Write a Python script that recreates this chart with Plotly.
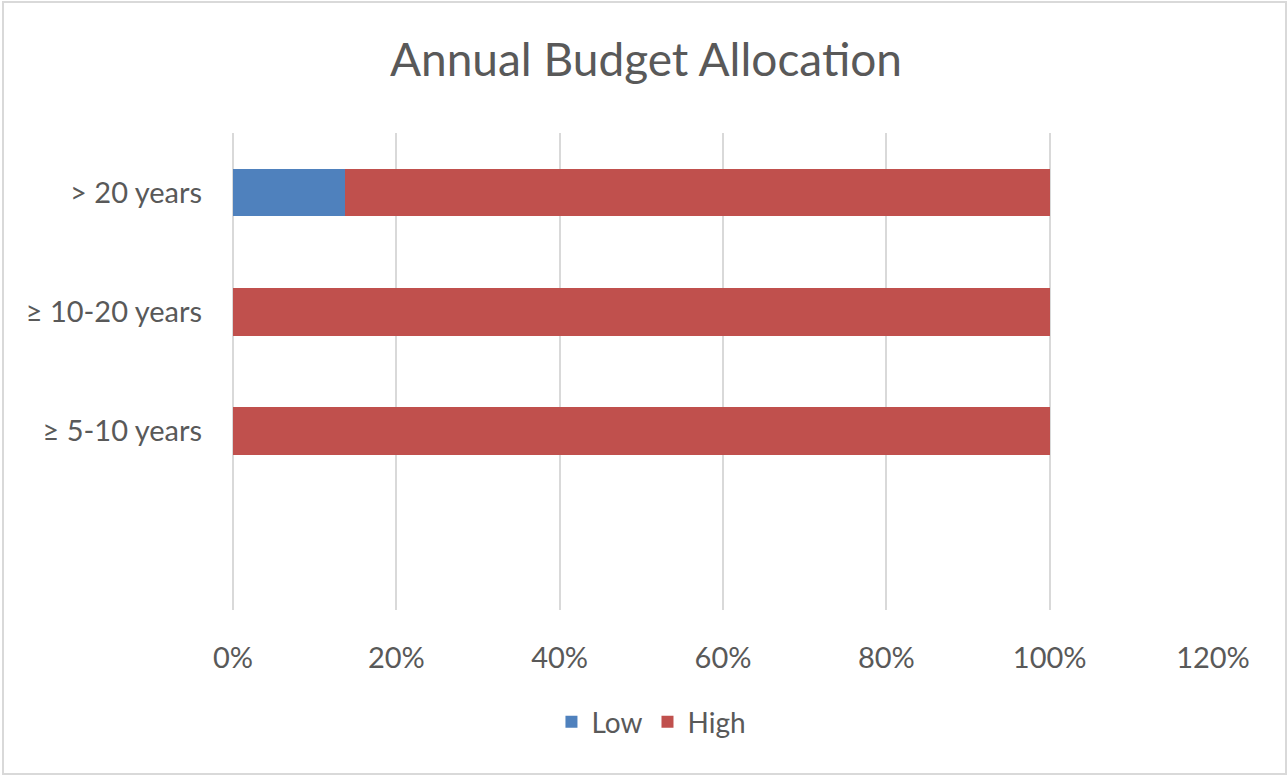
import plotly.graph_objects as go

# data (top to bottom; last row is an empty slot)
categories = ["> 20 years", "≥ 10-20 years", "≥ 5-10 years", " "]
low = [0.137, 0, 0, None]
high = [0.863, 1.0, 1.0, None]
x_ticks = [0, 0.2, 0.4, 0.6, 0.8, 1.0, 1.2]

font_name = "Lato"
text_col = "#595959"
grid_col = "#D9D9D9"

fig = go.Figure()
fig.add_trace(go.Bar(y=categories, x=low, name="Low", orientation="h",
                     marker=dict(color="#4F81BD", line=dict(width=0))))
fig.add_trace(go.Bar(y=categories, x=high, name="High", orientation="h",
                     marker=dict(color="#C0504D", line=dict(width=0))))

fig.update_layout(
    width=1288, height=776,
    barmode="stack", bargap=0.6,
    paper_bgcolor="white", plot_bgcolor="white",
    margin=dict(l=233, r=75, t=133, b=166),
    font=dict(family=font_name, color=text_col, size=29),
    title=dict(text="Annual Budget Allocation", x=646 / 1288, xref="container",
               xanchor="center", y=1 - 60 / 776, yref="container", yanchor="middle",
               font=dict(size=46, color=text_col)),
    legend=dict(orientation="h", x=0.427, xanchor="center", xref="paper",
                y=-0.235, yanchor="middle", font=dict(size=28, color=text_col),
                itemwidth=30, traceorder="normal"),
    showlegend=True,
)

fig.update_xaxes(range=[0, 1.2], tickvals=x_ticks, tickformat=".0%",
                 showgrid=True, gridcolor=grid_col, gridwidth=2,
                 zeroline=True, zerolinecolor=grid_col, zerolinewidth=2,
                 showline=False, ticks="", ticklabelstandoff=28)
fig.update_yaxes(categoryorder="array", categoryarray=categories[::-1],
                 range=[-0.5, 3.5], showgrid=False, zeroline=False,
                 showline=False, ticks="", ticklabelstandoff=30)

# light outer border like the chart area frame
fig.add_shape(type="rect", xref="paper", yref="paper",
              x0=(3 - 233) / 980, x1=(1286 - 233) / 980,
              y0=(610 - 774) / 477, y1=1 + (133 - 2) / 477,
              line=dict(color=grid_col, width=2), fillcolor="rgba(0,0,0,0)")

fig.write_html("out.html", config={"displayModeBar": False},
               post_script="document.body.style.margin='0';")
